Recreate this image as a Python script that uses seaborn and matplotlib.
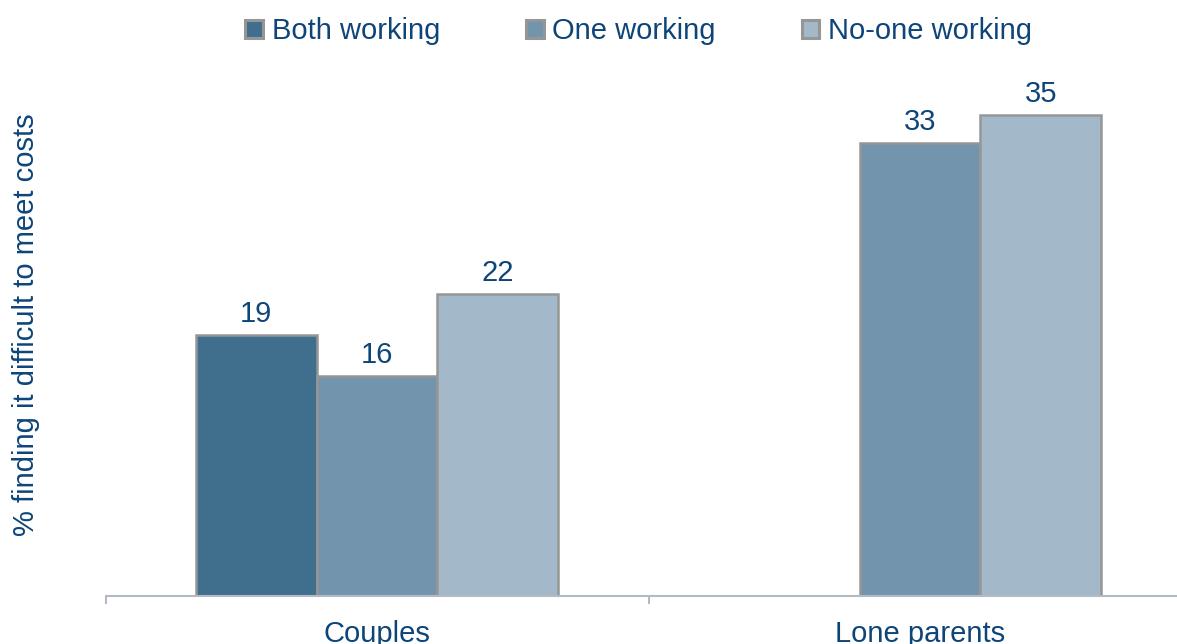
import numpy as np
import pandas as pd
import matplotlib
matplotlib.use("Agg")
import matplotlib.pyplot as plt
import seaborn as sns

# data
groups = ["Couples", "Couples", "Couples", "Lone parents", "Lone parents"]
status = ["Both working", "One working", "No-one working", "One working", "No-one working"]
values = [19, 16, 22, 33, 35]
hue_order = ["Both working", "One working", "No-one working"]
palette = ["#3f6f8d", "#7295ad", "#a3b8c8"]

TEXT = "#0e4579"
AXIS = "#b3bac6"
FS = 21

sns.set_style("white")
plt.rcParams["font.family"] = ["Liberation Sans", "DejaVu Sans"]

df = pd.DataFrame({"group": groups, "status": status, "value": values})

fig = plt.figure(figsize=(11.77, 6.44), dpi=100)
# plot area runs past the right edge of the picture, as in the original
ax = fig.add_axes([105.5 / 1177, 48 / 644, 1086 / 1177, 522 / 644])

sns.barplot(data=df, x="group", y="value", hue="status", hue_order=hue_order,
            palette=palette, width=0.667, saturation=1, edgecolor="#969696",
            linewidth=1.8, ax=ax)

for c in ax.containers:
    ax.bar_label(c, fmt="%.0f", padding=5, fontsize=FS, color=TEXT)

ax.set_ylim(0, 38)
ax.set_xlim(-0.5, 1.5)
ax.set_xlabel("")
ax.set_ylabel("% finding it difficult to meet costs", fontsize=FS, color=TEXT)
ax.yaxis.set_label_coords(-0.060, 0.52)
ax.set_yticks([])

# x axis: only bottom spine, ticks at category boundaries
for side in ["left", "right", "top"]:
    ax.spines[side].set_visible(False)
ax.spines["bottom"].set_color(AXIS)
ax.spines["bottom"].set_linewidth(1.5)
ax.set_xticks([0, 1])
ax.set_xticklabels(["Couples", "Lone parents"], fontsize=FS, color=TEXT)
ax.tick_params(axis="x", which="major", length=0, pad=17)
ax.set_xticks([-0.5, 0.5, 1.5], minor=True)
ax.tick_params(axis="x", which="minor", bottom=True, length=6, width=1.5,
               color=AXIS, direction="out")

leg = ax.legend(loc="center", bbox_to_anchor=(0.491, 1.082), ncol=3,
                frameon=False, fontsize=FS, handlelength=0.6, handleheight=0.6,
                handletextpad=0.3, columnspacing=2.95)
for t in leg.get_texts():
    t.set_color(TEXT)
for h in leg.legend_handles:
    h.set_edgecolor("#969696")
    h.set_linewidth(2.2)

fig.savefig("out.png", dpi=100)
